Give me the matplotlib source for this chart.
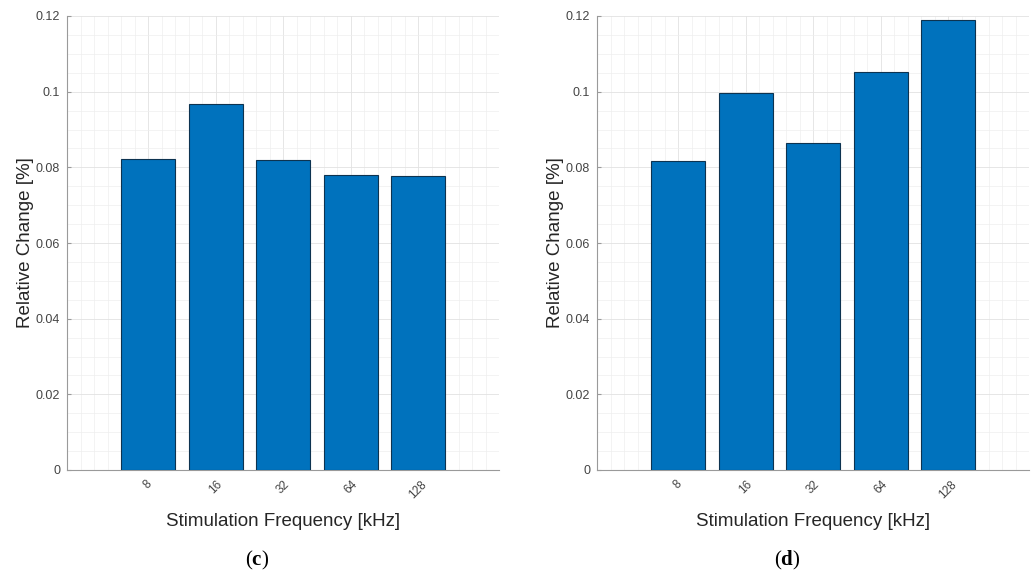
import numpy as np
import matplotlib
matplotlib.use('Agg')
import matplotlib.pyplot as plt
from matplotlib.ticker import MultipleLocator

plt.rcParams['font.family'] = ['Liberation Sans', 'DejaVu Sans']
plt.rcParams['mathtext.fontset'] = 'custom'
plt.rcParams['mathtext.bf'] = 'Liberation Serif:bold'
plt.rcParams['mathtext.rm'] = 'Liberation Serif'

freq_labels = ['8', '16', '32', '64', '128']
change_c = [0.0821, 0.0967, 0.0819, 0.0780, 0.0777]
change_d = [0.0817, 0.0996, 0.0863, 0.1053, 0.1190]
yticks = [0, 0.02, 0.04, 0.06, 0.08, 0.1, 0.12]
ytick_labels = ['0', '0.02', '0.04', '0.06', '0.08', '0.1', '0.12']

bar_color = '#0072BD'
edge_color = '#0d3350'
text_color = '#262626'
tick_color = '#444444'
axis_color = '#9a9a9a'

fig = plt.figure(figsize=(10.32, 5.75), dpi=100)
W, H = 1032, 575
panels = [(67, change_c, 'c'), (597, change_d, 'd')]

for x0, vals, letter in panels:
    ax = fig.add_axes([x0 / W, (H - 470) / H, 432 / W, 454 / H])
    pos = np.arange(1, len(vals) + 1)
    ax.bar(pos, vals, width=0.8, color=bar_color, edgecolor=edge_color,
           linewidth=0.8, zorder=3)
    ax.set_xlim(-0.2, 6.2)
    ax.set_ylim(0, 0.12)
    ax.set_xticks(pos)
    ax.set_xticklabels(freq_labels, rotation=45, fontsize=8.5, color=tick_color)
    ax.set_yticks(yticks)
    ax.set_yticklabels(ytick_labels, fontsize=9, color=tick_color)
    ax.xaxis.set_minor_locator(MultipleLocator(0.2))
    ax.yaxis.set_minor_locator(MultipleLocator(0.005))
    ax.grid(True, which='major', color='#e2e2e2', linewidth=0.6, zorder=0)
    ax.grid(True, which='minor', color='#eeeeee', linewidth=0.5, zorder=0)
    ax.set_axisbelow(True)
    for s in ['top', 'right']:
        ax.spines[s].set_visible(False)
    for s in ['left', 'bottom']:
        ax.spines[s].set_color(axis_color)
        ax.spines[s].set_linewidth(0.8)
    ax.tick_params(which='major', direction='in', length=3, color=axis_color)
    ax.tick_params(axis='x', which='major', pad=6)
    ax.tick_params(axis='y', which='major', pad=5)
    ax.tick_params(which='minor', length=0)
    ax.set_xlabel('Stimulation Frequency [kHz]', fontsize=13.5, color=text_color, labelpad=9)
    ax.set_ylabel('Relative Change [%]', fontsize=13.5, color=text_color, labelpad=1)
    fig.text((x0 + 190) / W, (H - 560) / H, r'($\mathbf{%s}$)' % letter,
             ha='center', va='center', fontsize=15, color='black',
             family='Liberation Serif')

fig.savefig('out.png', dpi=100)
